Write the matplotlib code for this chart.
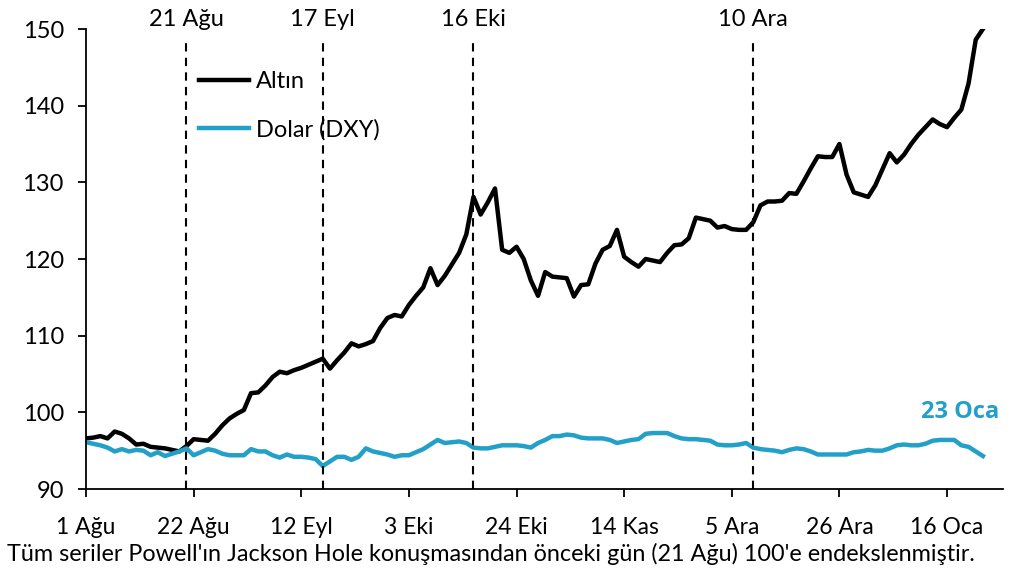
import pandas as pd
import matplotlib.pyplot as plt

plt.rcParams["font.family"] = ["Lato", "DejaVu Sans"]

# is gunleri, 1 Agu 2025 - 23 Oca 2026
dates = pd.bdate_range("2025-08-01", "2026-01-23")

altin = [
    96.6, 96.7, 96.9, 96.6, 97.5, 97.2, 96.6, 95.8, 95.9, 95.5,
    95.4, 95.3, 95.1, 94.9, 95.6, 96.5, 96.4, 96.3, 97.2, 98.3,
    99.2, 99.8, 100.3, 102.5, 102.6, 103.5, 104.6, 105.3, 105.1, 105.5,
    105.8, 106.2, 106.6, 107.0, 105.7, 106.8, 107.8, 109.0, 108.6, 108.9,
    109.3, 111.0, 112.3, 112.7, 112.5, 114.0, 115.2, 116.3, 118.8, 116.6,
    117.8, 119.3, 120.8, 123.2, 128.1, 125.8, 127.4, 129.2, 121.2, 120.8,
    121.6, 120.0, 117.2, 115.2, 118.3, 117.7, 117.6, 117.5, 115.1, 116.6,
    116.7, 119.4, 121.2, 121.7, 123.8, 120.3, 119.6, 119.0, 120.0, 119.8,
    119.6, 120.8, 121.8, 121.9, 122.7, 125.4, 125.2, 125.0, 124.1, 124.3,
    123.9, 123.8, 123.8, 124.8, 127.0, 127.5, 127.5, 127.6, 128.6, 128.5,
    130.1, 131.8, 133.4, 133.3, 133.3, 135.0, 131.0, 128.7, 128.4, 128.1,
    129.6, 131.7, 133.8, 132.6, 133.6, 135.0, 136.2, 137.2, 138.2, 137.6,
    137.2, 138.4, 139.5, 142.9, 148.6, 150.0,
]

dolar = [
    96.1, 95.9, 95.7, 95.4, 94.9, 95.2, 94.9, 95.1, 95.0, 94.4,
    94.8, 94.3, 94.6, 94.9, 95.3, 94.4, 94.8, 95.2, 95.0, 94.6,
    94.4, 94.4, 94.4, 95.2, 94.9, 94.9, 94.4, 94.1, 94.5, 94.2,
    94.2, 94.1, 93.9, 93.0, 93.6, 94.2, 94.2, 93.8, 94.2, 95.3,
    94.9, 94.7, 94.5, 94.2, 94.4, 94.4, 94.8, 95.2, 95.8, 96.4,
    96.0, 96.1, 96.2, 96.0, 95.4, 95.3, 95.3, 95.5, 95.7, 95.7,
    95.7, 95.6, 95.4, 96.0, 96.4, 96.9, 96.9, 97.1, 97.0, 96.7,
    96.6, 96.6, 96.6, 96.4, 96.0, 96.2, 96.4, 96.5, 97.2, 97.3,
    97.3, 97.3, 96.9, 96.6, 96.5, 96.5, 96.4, 96.3, 95.8, 95.7,
    95.7, 95.8, 96.0, 95.4, 95.2, 95.1, 95.0, 94.8, 95.1, 95.3,
    95.2, 94.9, 94.5, 94.5, 94.5, 94.5, 94.5, 94.8, 94.9, 95.1,
    95.0, 95.0, 95.3, 95.7, 95.8, 95.7, 95.7, 95.9, 96.3, 96.4,
    96.4, 96.4, 95.7, 95.5, 94.9, 94.3,
]

tick_labels = ["1 Ağu", "22 Ağu", "12 Eyl", "3 Eki", "24 Eki",
               "14 Kas", "5 Ara", "26 Ara", "16 Oca"]

olay_tarihleri = ["2025-08-21", "2025-09-17", "2025-10-16", "2025-12-10"]
olay_etiketleri = ["21 Ağu", "17 Eyl", "16 Eki", "10 Ara"]

mavi = "#22A0C8"

fig = plt.figure(figsize=(10.24, 5.72), dpi=100)
ax = fig.add_axes([86 / 1024, 1 - 489 / 572, (1003 - 86) / 1024, 460 / 572])

x = range(len(dates))
ax.plot(x, altin, color="black", lw=3.2, label="Altın", solid_joinstyle="round")
ax.plot(x, dolar, color=mavi, lw=3.2, label="Dolar (DXY)", solid_joinstyle="round")

for d, lab in zip(olay_tarihleri, olay_etiketleri):
    pos = dates.get_loc(pd.Timestamp(d))
    ax.axvline(pos, ymax=0.977, color="black", ls=(0, (4, 3)), lw=1.5)
    ax.text(pos, 151.2, lab, ha="center", va="center", fontsize=17, clip_on=False)

ax.text(127.3, 100.0, "23 Oca", color=mavi, fontsize=17, fontweight="bold",
        family=["Open Sans", "DejaVu Sans"], ha="right", va="center", clip_on=False)

ax.set_xlim(0, 127.8)
ax.set_ylim(90, 150)
ax.set_yticks([90, 100, 110, 120, 130, 140, 150])
ax.set_xticks(range(0, len(dates), 15))
ax.set_xticklabels(tick_labels)
ax.tick_params(axis="both", labelsize=17, length=6, width=1.3)
ax.tick_params(axis="x", labelsize=16.5, pad=14)
ax.tick_params(axis="y", pad=10)

for s in ["top", "right"]:
    ax.spines[s].set_visible(False)
ax.spines["left"].set_linewidth(1.3)
ax.spines["bottom"].set_linewidth(1.3)

ax.legend(loc="upper left", bbox_to_anchor=(0.1, 0.955), frameon=False,
          fontsize=17, handlelength=2.1, handletextpad=0.3, labelspacing=1.15)

fig.text(7 / 1024, 1 - 554 / 572, "Tüm seriler Powell'ın Jackson Hole konuşmasından önceki gün (21 Ağu) "
         "100'e endekslenmiştir.", ha="left", va="center", fontsize=16.8)

fig.savefig("out.png", dpi=100)
